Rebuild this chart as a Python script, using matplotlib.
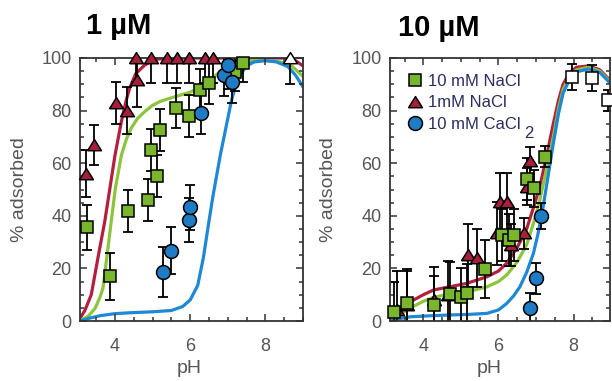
import matplotlib
matplotlib.use("Agg")
import matplotlib.pyplot as plt
from matplotlib.lines import Line2D
from matplotlib.ticker import MultipleLocator

plt.rcParams['font.family'] = ['Liberation Sans', 'DejaVu Sans']

GREEN = '#7ab52e'
GREEN_LINE = '#8cc43c'
RED = '#a81f3c'
RED_LINE = '#b51f3e'
BLUE = '#1f7cc4'
BLUE_LINE = '#1f88d4'
GRAY = '#555555'
LEG_TXT = '#2b2d5e'

# ---- 1 uM panel ----
a_na10_ph = [3.25, 3.87, 4.35, 4.87, 4.97, 5.12, 5.20, 5.62, 5.96, 6.25, 6.51, 7.20, 7.41]
a_na10_y = [35.6, 17, 42, 46, 65, 55, 72.6, 81, 78, 88, 90.4, 94.5, 98]
a_na10_err = [8.5, 9, 8, 8, 8, 8, 8, 7.5, 8, 8, 8, 7, 7]

a_na1_ph = [3.22, 3.44, 4.04, 4.33, 4.58, 4.55, 4.97, 5.38, 5.65, 5.96, 6.40, 6.62]
a_na1_y = [56, 67, 83, 80, 91.5, 100, 100, 100, 100, 100, 100, 100]
a_na1_err = [9, 7.5, 8, 9, 10, 9, 9.5, 9.5, 9.5, 9.5, 9.5, 9.5]

a_ca_ph = [5.29, 5.49, 5.96, 6.00, 6.29, 6.91, 7.00, 7.11]
a_ca_y = [18.8, 26.7, 38.4, 43.2, 79, 93.5, 97.3, 91]
a_ca_err = [9.5, 9, 8.5, 8.5, 8, 8, 9, 8]

a_open_ph = [8.65]
a_open_y = [100]
a_open_err = [10]

a_red_ph = [3.07, 3.2, 3.37, 3.56, 3.73, 3.86, 4.0, 4.17, 4.3, 4.39, 4.55, 4.79, 5.06, 5.5,
            6.5, 7.5, 8.5, 8.8, 9.0]
a_red_y = [1, 4, 10, 25, 38, 50, 63, 75.8, 84, 88.5, 94, 97.3, 99.5, 100,
           100, 100, 100, 99, 97]
a_green_ph = [3.07, 3.3, 3.47, 3.6, 3.68, 3.79, 3.9, 4.01, 4.17, 4.3, 4.43, 4.6, 4.79, 5.0,
              5.2, 5.6, 6.0, 6.3, 6.6, 6.9, 7.2, 7.6, 8.0, 8.4, 8.7, 9.0]
a_green_y = [0, 2, 4.8, 9, 12.4, 25, 37.8, 50.4, 63, 69, 73.3, 77, 79.6, 82,
             83.5, 85.3, 87, 89, 92.5, 96, 98, 99, 99, 98.5, 97, 93]
a_blue_ph = [3.07, 3.3, 3.6, 4.0, 4.5, 5.0, 5.5, 5.8, 6.0, 6.2, 6.35, 6.5, 6.6, 6.7, 6.8,
             6.9, 7.0, 7.1, 7.2, 7.35, 7.5, 7.7, 8.0, 8.3, 8.6, 8.8, 9.0]
a_blue_y = [0, 1, 2, 2.8, 3.2, 3.5, 4, 5.5, 8, 13.5, 24, 38, 47, 55, 63,
            70, 77, 84, 89, 94, 97, 98.5, 99, 98.5, 96.7, 93.5, 89]

# ---- 10 uM panel ----
b_na10_ph = [3.21, 3.57, 4.28, 4.70, 5.00, 5.17, 5.65, 6.10, 6.27, 6.40, 6.75, 6.94, 7.23]
b_na10_y = [3.5, 6.7, 6.1, 10.3, 9.3, 10.8, 19.8, 32.7, 30.8, 32.7, 54, 50.4, 62.5]
b_na10_err = [11.5, 13, 11, 12, 11, 11, 11, 10, 10, 10, 8, 7, 4]

b_na1_ph = [3.30, 3.55, 4.28, 4.65, 5.20, 5.43, 5.96, 6.03, 6.23, 6.33, 6.68, 6.77, 6.84]
b_na1_y = [4, 6, 8, 10, 25, 23.8, 33.3, 45.4, 45.4, 29, 33.3, 51, 61]
b_na1_err = [15, 13, 12.5, 13, 12, 11, 12, 11, 11, 8, 6, 7, 5]

b_ca_ph = [6.85, 7.00, 7.14]
b_ca_y = [4.8, 16.2, 40]
b_ca_err = [6, 6, 5]

b_open_ph = [7.96, 8.50, 8.91]
b_open_y = [92.9, 92.3, 84]
b_open_err = [5, 5, 4]

b_red_ph = [3.11, 3.38, 3.65, 4.0, 4.27, 4.7, 5.15, 5.69, 6.0, 6.22, 6.5, 6.75, 6.95, 7.1,
            7.3, 7.46, 7.6, 7.72, 7.9, 8.08, 8.4, 8.7, 8.97]
b_red_y = [0, 4, 7.3, 10, 11.8, 13, 14.3, 16.8, 19, 22, 28, 35, 44, 51,
           64, 75, 84, 90, 94.5, 96.5, 97, 95.5, 91.5]
b_green_ph = [3.11, 3.38, 3.65, 4.0, 4.27, 4.7, 5.15, 5.69, 6.0, 6.22, 6.5, 6.75, 6.95, 7.1,
              7.3, 7.46, 7.6, 7.72, 7.9, 8.08, 8.4, 8.7, 8.97]
b_green_y = [0, 2.5, 5, 7.5, 9, 10.3, 11, 13, 15, 17.5, 22.5, 29, 38, 46,
             59, 70, 81, 88, 93.5, 95.5, 96.5, 95, 91]
b_blue_ph = [3.11, 3.4, 3.65, 4.2, 4.71, 5.2, 5.69, 6.0, 6.22, 6.4, 6.57, 6.75, 6.93, 7.05,
             7.19, 7.32, 7.46, 7.6, 7.72, 7.9, 8.08, 8.4, 8.7, 8.97]
b_blue_y = [0, 1, 1.6, 2, 2.3, 2.5, 2.9, 4.2, 6.7, 9.5, 13, 18.5, 25.7, 33,
            43.5, 55, 67.5, 79, 86.6, 92, 94.8, 95.8, 94.5, 90.5]

TRI = [(-1, -0.75), (1, -0.75), (0, 0.85), (-1, -0.75)]
MS_SQ, MS_TRI, MS_CI = 8, 10, 10


def style_axes(ax, xlim):
    ax.set_xlim(*xlim)
    ax.set_ylim(0, 100)
    ax.xaxis.set_major_locator(MultipleLocator(2))
    ax.xaxis.set_minor_locator(MultipleLocator(0.5))
    ax.yaxis.set_major_locator(MultipleLocator(20))
    ax.yaxis.set_minor_locator(MultipleLocator(5))
    ax.tick_params(which='both', direction='in', top=True, right=True,
                   colors='#333333', labelcolor=GRAY, labelsize=13, width=1.1)
    ax.tick_params(which='major', length=5)
    ax.tick_params(which='minor', length=3)
    ax.tick_params(axis='x', pad=12)
    ax.tick_params(axis='y', pad=6)
    for s in ax.spines.values():
        s.set_color('#333333')
        s.set_linewidth(1.3)
    ax.set_xlabel('pH', fontsize=14, color=GRAY)
    ax.set_ylabel('% adsorbed', fontsize=14, color=GRAY)


def draw_panel(ax, curves, series):
    for ph, y, c in curves:
        ax.plot(ph, y, color=c, lw=2.3, zorder=1, solid_capstyle='round',
                solid_joinstyle='round')
    for ph, y, err, marker, ms, fc in series:
        ax.errorbar(ph, y, yerr=err, fmt='none', ecolor='black', elinewidth=1.3,
                    capsize=3.5, capthick=1.3, zorder=2)
    for ph, y, err, marker, ms, fc in series:
        ax.plot(ph, y, linestyle='none', marker=marker, ms=ms, mfc=fc, mec='black',
                mew=1.1, zorder=3, clip_on=False)


fig = plt.figure(figsize=(6.12, 3.81), dpi=100)
ax1 = fig.add_axes([80 / 612, 60 / 381, 223 / 612, 263 / 381])
ax2 = fig.add_axes([390 / 612, 60 / 381, 220 / 612, 263 / 381])

draw_panel(ax1,
           [(a_red_ph, a_red_y, RED_LINE), (a_green_ph, a_green_y, GREEN_LINE),
            (a_blue_ph, a_blue_y, BLUE_LINE)],
           [(a_na1_ph, a_na1_y, a_na1_err, TRI, MS_TRI, RED),
            (a_na10_ph, a_na10_y, a_na10_err, 's', MS_SQ, GREEN),
            (a_ca_ph, a_ca_y, a_ca_err, 'o', MS_CI, BLUE),
            (a_open_ph, a_open_y, a_open_err, TRI, MS_TRI, 'white')])
style_axes(ax1, (3.07, 9.0))
ax1.xaxis.set_label_coords(0.49, -0.15)
ax1.yaxis.set_label_coords(-0.235, 0.5)

draw_panel(ax2,
           [(b_red_ph, b_red_y, RED_LINE), (b_green_ph, b_green_y, GREEN_LINE),
            (b_blue_ph, b_blue_y, BLUE_LINE)],
           [(b_na1_ph, b_na1_y, b_na1_err, TRI, MS_TRI, RED),
            (b_na10_ph, b_na10_y, b_na10_err, 's', MS_SQ, GREEN),
            (b_ca_ph, b_ca_y, b_ca_err, 'o', MS_CI, BLUE),
            (b_open_ph, b_open_y, b_open_err, 's', MS_SQ, 'white')])
style_axes(ax2, (3.11, 8.97))
ax2.xaxis.set_label_coords(0.45, -0.15)
ax2.yaxis.set_label_coords(-0.24, 0.5)

handles = [Line2D([], [], ls='none', marker='s', ms=MS_SQ, mfc=GREEN, mec='black', mew=1.1),
           Line2D([], [], ls='none', marker=TRI, ms=MS_TRI, mfc=RED, mec='black', mew=1.1),
           Line2D([], [], ls='none', marker='o', ms=MS_CI, mfc=BLUE, mec='black', mew=1.1)]
ax2.legend(handles, ['10 mM NaCl', '1mM NaCl', '10 mM CaCl'], loc='upper left',
           bbox_to_anchor=(0.08, 0.94), frameon=False, fontsize=12,
           labelcolor=LEG_TXT, handlelength=0.9, handletextpad=0.3,
           labelspacing=0.4, borderpad=0, borderaxespad=0)
ax2.text(0.632, 0.712, '2', transform=ax2.transAxes, fontsize=12, color=LEG_TXT,
         ha='center', va='center')

fig.text(86 / 612, 1 - 26 / 381, '1 µM', fontsize=21, fontweight='bold', va='center')
fig.text(398 / 612, 1 - 28 / 381, '10 µM', fontsize=21, fontweight='bold', va='center')

fig.savefig('out.png', dpi=100)
